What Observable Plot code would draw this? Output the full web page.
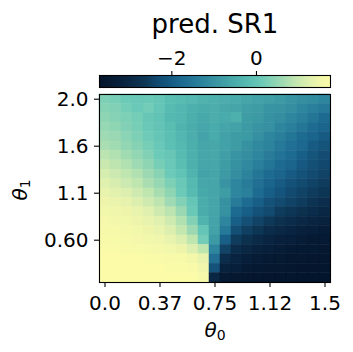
<!DOCTYPE html>
<html><head><meta charset="utf-8">
<script src="https://cdn.jsdelivr.net/npm/d3@7"></script>
<script src="https://cdn.jsdelivr.net/npm/@observablehq/plot@0.6"></script>
<style>
body{margin:0;background:#fff;}
#wrap{position:relative;width:353px;height:352px;font-family:"DejaVu Sans",sans-serif;overflow:hidden;}
#wrap svg{display:block;position:absolute;left:0;top:0;overflow:visible;}
#overlay{pointer-events:none;}
</style></head><body>
<div id="wrap"></div>
<script>
// ---- data ----
const titleText = "pred. SR1";
const theta0 = [0, 0.075, 0.15, 0.225, 0.3, 0.375, 0.45, 0.525, 0.6, 0.675, 0.75, 0.825, 0.9, 0.975, 1.05, 1.125, 1.2, 1.275, 1.35, 1.425, 1.5];
const xTickIdx = [0, 5, 10, 15, 20];
const xTickLabels = ["0.0", "0.37", "0.75", "1.12", "1.5"];
const yTickIdx = [0, 5, 10, 15];
const yTickLabels = ["2.0", "1.6", "1.1", "0.60"];
const cbarTicks = [-2, 0];
const vmin = -3.71, vmax = 1.75;
// rows: top (theta1 = 2.0) to bottom; columns: theta0 left to right
const predSR1 = [
  [0.28, 0.22, 0.11, 0.06, 0.06, 0.00, -0.16, -0.22, -0.27, -0.38, -0.43, -0.49, -0.54, -0.65, -0.71, -0.76, -0.87, -0.98, -1.09, -1.14, -1.25],
  [0.36, 0.33, 0.19, 0.06, 0.17, 0.00, -0.22, -0.32, -0.43, -0.52, -0.49, -0.60, -0.65, -0.76, -0.82, -0.98, -1.00, -1.09, -1.25, -1.36, -1.47],
  [0.44, 0.36, 0.28, 0.19, 0.03, -0.05, -0.27, -0.32, -0.46, -0.57, -0.49, -0.54, -0.43, -0.82, -0.87, -1.03, -1.09, -1.25, -1.36, -1.53, -1.74],
  [0.52, 0.44, 0.33, 0.22, 0.06, -0.03, -0.19, -0.38, -0.52, -0.62, -0.54, -0.65, -0.71, -0.87, -0.98, -1.06, -1.25, -1.36, -1.53, -1.74, -1.85],
  [0.60, 0.55, 0.41, 0.28, 0.14, 0.00, -0.13, -0.32, -0.49, -0.68, -0.54, -0.71, -0.82, -0.87, -1.06, -1.25, -1.36, -1.53, -1.74, -1.85, -2.02],
  [0.71, 0.63, 0.49, 0.36, 0.22, 0.06, -0.11, -0.27, -0.46, -0.62, -0.60, -0.71, -0.82, -1.03, -1.20, -1.31, -1.47, -1.64, -1.80, -2.02, -2.15],
  [0.85, 0.77, 0.63, 0.49, 0.33, 0.11, 0.03, -0.22, -0.43, -0.62, -0.60, -0.76, -0.98, -1.09, -1.25, -1.42, -1.58, -1.74, -1.96, -2.15, -2.29],
  [0.99, 0.88, 0.77, 0.60, 0.44, 0.22, 0.06, -0.16, -0.43, -0.62, -0.62, -0.82, -1.03, -1.20, -1.36, -1.53, -1.74, -1.85, -2.07, -2.24, -2.37],
  [1.12, 1.01, 0.90, 0.77, 0.58, 0.39, 0.11, -0.05, -0.38, -0.68, -0.65, -0.87, -1.09, -1.31, -1.53, -1.74, -1.85, -2.02, -2.18, -2.34, -2.45],
  [1.26, 1.15, 1.01, 0.90, 0.71, 0.52, 0.28, 0.06, -0.27, -0.62, -0.65, -0.98, -1.25, -1.42, -1.64, -1.85, -2.02, -2.18, -2.34, -2.45, -2.56],
  [1.37, 1.29, 1.20, 1.04, 0.90, 0.69, 0.44, 0.11, -0.22, -0.57, -0.65, -0.82, -1.25, -1.36, -1.74, -1.96, -2.13, -2.34, -2.45, -2.56, -2.67],
  [1.45, 1.40, 1.34, 1.20, 1.04, 0.88, 0.60, 0.33, 0.00, -0.52, -0.65, -1.03, -1.42, -1.74, -1.96, -2.18, -2.34, -2.45, -2.56, -2.73, -2.84],
  [1.50, 1.48, 1.45, 1.37, 1.26, 1.04, 0.85, 0.55, 0.06, -0.52, -0.65, -1.03, -1.74, -1.96, -2.18, -2.34, -2.56, -2.67, -2.78, -2.89, -3.00],
  [1.59, 1.53, 1.50, 1.45, 1.37, 1.26, 1.04, 0.77, 0.33, -0.38, -0.68, -1.25, -1.96, -2.24, -2.45, -2.62, -2.78, -2.89, -3.00, -3.11, -3.16],
  [1.61, 1.61, 1.56, 1.50, 1.45, 1.37, 1.20, 0.93, 0.58, 0.00, -0.71, -1.47, -2.24, -2.51, -2.67, -2.89, -3.00, -3.11, -3.22, -3.27, -3.33],
  [1.67, 1.64, 1.61, 1.59, 1.50, 1.48, 1.37, 1.20, 0.90, 0.17, -0.87, -1.96, -2.56, -2.78, -2.95, -3.11, -3.22, -3.27, -3.33, -3.44, -3.44],
  [1.70, 1.70, 1.67, 1.64, 1.61, 1.59, 1.50, 1.45, 1.20, 0.90, -1.25, -2.45, -2.89, -3.05, -3.16, -3.27, -3.33, -3.44, -3.49, -3.49, -3.55],
  [1.75, 1.75, 1.72, 1.72, 1.70, 1.70, 1.67, 1.64, 1.53, 1.37, -1.64, -2.89, -3.11, -3.25, -3.33, -3.44, -3.46, -3.55, -3.57, -3.60, -3.60],
  [1.75, 1.75, 1.75, 1.75, 1.72, 1.72, 1.70, 1.70, 1.67, 1.48, -2.18, -3.16, -3.27, -3.44, -3.49, -3.55, -3.57, -3.60, -3.63, -3.66, -3.66],
  [1.75, 1.75, 1.75, 1.75, 1.75, 1.75, 1.75, 1.72, 1.72, 1.61, -3.05, -3.44, -3.55, -3.60, -3.63, -3.66, -3.68, -3.68, -3.70, -3.70, -3.71]
];

// ---- style ----
const cmapStops = ["#03152c","#061a33","#08223e","#0b2c4a","#0e3857","#124a70","#165880","#1c6890","#247696","#2e869e","#3894a2","#42a2a7","#4eb0ad","#5abeb3","#6ccab8","#88d3b5","#a4dcb2","#c4e7b0","#dcefaf","#f0f6ab","#fcfca8"];
const FONT = "DejaVu Sans";
const TICK_FS = "20px";
const colorOpts = {type: "linear", domain: [vmin, vmax], clamp: true, interpolate: d3.piecewise(d3.interpolateRgb, cmapStops)};

const cells = [];
predSR1.forEach((row, r) => row.forEach((v, c) => cells.push({r, c, v})));

const wrap = document.getElementById("wrap");

// heatmap
const main = Plot.plot({
  width: 353, height: 352,
  marginLeft: 99, marginRight: 23, marginTop: 94, marginBottom: 70,
  style: {fontFamily: FONT, fontSize: TICK_FS, background: "transparent", color: "black", overflow: "visible"},
  x: {type: "band", domain: d3.range(theta0.length), padding: 0, round: false, axis: null},
  y: {type: "band", domain: d3.range(predSR1.length), padding: 0, round: false, axis: null},
  color: colorOpts,
  marks: [
    Plot.cell(cells, {x: "c", y: "r", fill: "v", stroke: "v", strokeWidth: 0.5, inset: 0}),
    Plot.frame({stroke: "black", strokeWidth: 1.1}),
    Plot.axisX(xTickIdx, {anchor: "bottom", tickSize: 5, tickPadding: 8, strokeWidth: 1.1, fontSize: TICK_FS, label: null,
      tickFormat: (d) => xTickLabels[xTickIdx.indexOf(d)]}),
    Plot.axisY(yTickIdx, {anchor: "left", tickSize: 5, tickPadding: 6, strokeWidth: 1.1, fontSize: TICK_FS, label: null,
      tickFormat: (d) => yTickLabels[yTickIdx.indexOf(d)]})
  ]
});
wrap.appendChild(main);

// colorbar
const cbar = Plot.plot({
  width: 353, height: 92,
  marginLeft: 99, marginRight: 23, marginTop: 75, marginBottom: 5,
  style: {fontFamily: FONT, fontSize: TICK_FS, background: "transparent", color: "black", overflow: "visible"},
  x: {domain: [vmin, vmax], axis: null},
  y: {domain: [0, 1], axis: null},
  color: colorOpts,
  marks: [
    Plot.raster({x1: vmin, x2: vmax, y1: 0, y2: 1, width: 462, height: 1, fill: (x, y) => x, imageRendering: "auto"}),
    Plot.frame({stroke: "black", strokeWidth: 1.1}),
    Plot.axisX(cbarTicks, {anchor: "top", tickSize: 5, tickPadding: 6, strokeWidth: 1.1, fontSize: TICK_FS, label: null})
  ]
});
wrap.appendChild(cbar);

// overlay: title and axis labels
const ov = d3.select(wrap).append("svg").attr("id", "overlay")
  .attr("width", 353).attr("height", 352)
  .style("font-family", FONT);
ov.append("text").attr("x", 215).attr("y", 33).attr("text-anchor", "middle")
  .attr("font-size", 26).text(titleText);
const xl = ov.append("text").attr("x", 215).attr("y", 337).attr("text-anchor", "middle").attr("font-size", 20);
xl.append("tspan").attr("font-style", "italic").text("θ");
xl.append("tspan").attr("font-size", 14).attr("dy", 3).text("0");
const yl = ov.append("text").attr("transform", "translate(27,190) rotate(-90)").attr("text-anchor", "middle").attr("font-size", 20);
yl.append("tspan").attr("font-style", "italic").text("θ");
yl.append("tspan").attr("font-size", 14).attr("dy", 3).text("1");
</script>
</body></html>
